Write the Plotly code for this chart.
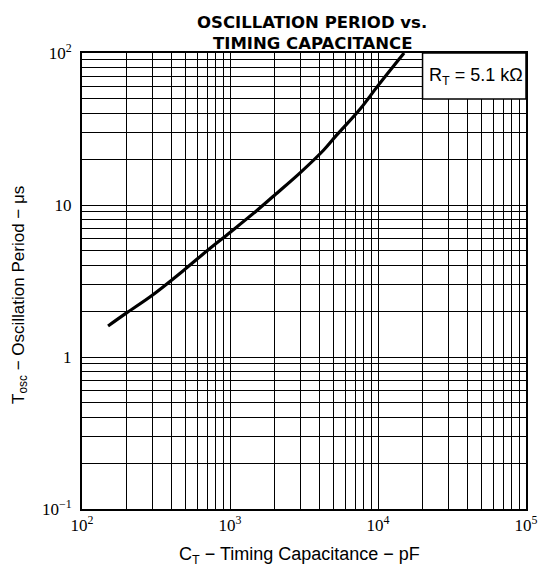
import plotly.graph_objects as go

# Data (log-log curve)
cap_pF = [150, 200, 300, 500, 700, 1000, 1500, 2000, 3000, 4300, 5250, 7600, 10000, 15000]
period_us = [1.6, 1.95, 2.56, 3.8, 5.0, 6.6, 9.1, 11.6, 16.4, 23.0, 28.8, 43.0, 61.0, 100.0]

x_decades = [100, 1000, 10000, 100000]
x_labels = ["10<sup>2</sup>", "10<sup>3</sup>", "10<sup>4</sup>", "10<sup>5</sup>"]
y_decades = [0.1, 1, 10, 100]
y_labels = ["10<sup>−1</sup>", "1", "10", "10<sup>2</sup>"]
title_lines = ["OSCILLATION PERIOD vs.", "TIMING CAPACITANCE"]

def minor_vals(decades):
    vals = []
    for d in decades[:-1]:
        for m in range(2, 10):
            vals.append(d * m)
    return vals

fig = go.Figure()
fig.add_trace(go.Scatter(x=cap_pF, y=period_us, mode="lines",
                         line=dict(color="black", width=3.2, shape="spline", smoothing=1.0),
                         showlegend=False, hoverinfo="skip"))

tickfont = dict(family="Liberation Serif", size=17, color="black")
fig.update_xaxes(type="log", range=[2, 5], tickmode="array", tickvals=x_decades, ticktext=x_labels,
                 showgrid=True, gridcolor="black", gridwidth=1, zeroline=False,
                 showline=True, linecolor="black", linewidth=2, mirror=True,
                 ticks="", tickfont=tickfont, ticklabelstandoff=0,
                 minor=dict(tickmode="array", tickvals=minor_vals(x_decades), ticks="",
                            showgrid=True, gridcolor="black", gridwidth=1))
fig.update_yaxes(type="log", range=[-1, 2], tickmode="array", tickvals=y_decades, ticktext=y_labels,
                 showgrid=True, gridcolor="black", gridwidth=1, zeroline=False,
                 showline=True, linecolor="black", linewidth=2, mirror=True,
                 ticks="", tickfont=tickfont, ticklabelstandoff=5,
                 minor=dict(tickmode="array", tickvals=minor_vals(y_decades), ticks="",
                            showgrid=True, gridcolor="black", gridwidth=1))

# Parameter box
fig.add_shape(type="rect", xref="paper", yref="paper", x0=0.767, x1=1.0, y0=0.899, y1=1.0,
              fillcolor="white", line=dict(color="black", width=1.5), layer="above")
fig.add_annotation(xref="paper", yref="paper", x=0.887, y=0.949, xanchor="center", yanchor="middle",
                   showarrow=False, text="R<sub>T</sub> = 5.1 kΩ",
                   font=dict(family="Liberation Sans", size=18, color="black"))

# Title (two lines, tight spacing)
for line, ypx in zip(title_lines, [22, 43]):
    fig.add_annotation(xref="paper", yref="paper", x=0.519, y=(509 - ypx) / 456,
                       xanchor="center", yanchor="middle", showarrow=False,
                       text="<b>" + line + "</b>",
                       font=dict(family="DejaVu Sans", size=16.5, color="black"))

# Axis titles
fig.add_annotation(xref="paper", yref="paper", x=0.49, y=-0.103, xanchor="center", yanchor="middle",
                   showarrow=False,
                   text="C<sub>T</sub> − Timing Capacitance − pF",
                   font=dict(family="Liberation Sans", size=18, color="black"))
fig.add_annotation(xref="paper", yref="paper", x=-0.14, y=0.469, xanchor="center", yanchor="middle",
                   showarrow=False, textangle=-90,
                   text="T<sub>osc</sub> − Oscillation Period − μs",
                   font=dict(family="Liberation Sans", size=17, color="black"))

fig.update_layout(width=550, height=572, margin=dict(l=82, r=17, t=53, b=63),
                  plot_bgcolor="white", paper_bgcolor="white")

fig.write_html("out.html")
